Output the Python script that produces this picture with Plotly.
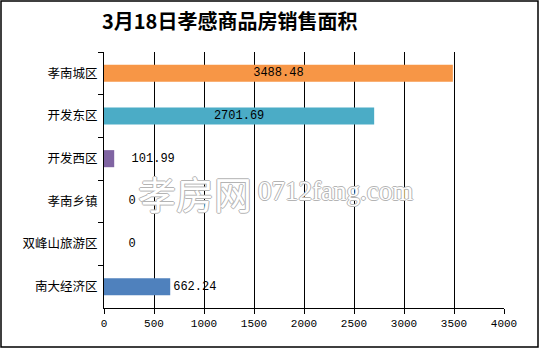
import plotly.graph_objects as go

categories = ["孝南城区", "开发东区", "开发西区", "孝南乡镇", "双峰山旅游区", "南大经济区"]
values = [3488.48, 2701.69, 101.99, 0, 0, 662.24]
labels = ["3488.48", "2701.69", "  101.99", "   0", "   0", "662.24"]
colors = ["#F79646", "#4BACC6", "#8064A2", "#4F81BD", "#4F81BD", "#4F81BD"]
positions = ["inside", "inside", "outside", "outside", "outside", "outside"]
x_ticks = [0, 500, 1000, 1500, 2000, 2500, 3000, 3500, 4000]

W, H = 540, 349
L, R, T, B = 104, 36, 52, 41
PW, PH = W - L - R, H - T - B

def px_x(p):
    return (p - L) / PW

def px_y(p):
    return (H - B - p) / PH

mono = "Liberation Mono, DejaVu Sans Mono, monospace"
cjk = "Noto Sans CJK SC, sans-serif"
outline = "1px 0 0 #b4b4b4, -1px 0 0 #b4b4b4, 0 1px 0 #b4b4b4, 0 -1px 0 #b4b4b4"

fig = go.Figure(go.Bar(
    y=categories, x=values, orientation="h",
    marker=dict(color=colors, line=dict(width=0)),
    text=labels, textposition=positions, insidetextanchor="middle",
    textfont=dict(family=mono, size=12, color="#000000"),
    insidetextfont=dict(family=mono, size=12, color="#000000"),
    outsidetextfont=dict(family=mono, size=12, color="#000000"),
    constraintext="none",
    cliponaxis=False,
))

fig.update_layout(
    width=W, height=H,
    margin=dict(l=L, r=R, t=T, b=B),
    paper_bgcolor="white", plot_bgcolor="white",
    bargap=0.6,
    uniformtext=dict(minsize=12, mode="show"),
    showlegend=False,
    xaxis=dict(range=[0, 4000], tickvals=x_ticks, ticktext=[str(v) for v in x_ticks],
               showgrid=True, gridcolor="#000000", gridwidth=1,
               showline=True, linecolor="#000000", linewidth=1,
               ticks="outside", ticklen=5, tickcolor="#000000",
               tickfont=dict(family=mono, size=11, color="#000000"),
               zeroline=False, fixedrange=True),
    yaxis=dict(autorange="reversed", showline=True, linecolor="#000000", linewidth=1,
               ticks="outside", ticklen=5, tickcolor="#000000", tickson="boundaries",
               tickfont=dict(family=cjk, size=12.5, color="#000000"),
               ticklabelstandoff=3, showgrid=False, fixedrange=True),
    font=dict(family=cjk),
)

fig.add_annotation(text="<b>3月18日孝感商品房销售面积</b>", xref="paper", yref="paper",
                   x=px_x(100), y=px_y(20), xanchor="left", yanchor="middle",
                   showarrow=False, font=dict(family="Noto Sans CJK SC", size=20, color="#000000"))

fig.add_annotation(text="孝房网", xref="paper", yref="paper",
                   x=px_x(136), y=px_y(192), xanchor="left", yanchor="middle",
                   showarrow=False,
                   font=dict(family=cjk, size=38, color="#ffffff", shadow=outline))
fig.add_annotation(text="0712fang.com", xref="paper", yref="paper",
                   x=px_x(256), y=px_y(191), xanchor="left", yanchor="middle",
                   showarrow=False,
                   font=dict(family="Liberation Serif, serif", size=27, color="#ffffff", shadow=outline))

fig.add_shape(type="rect", xref="paper", yref="paper",
              x0=px_x(1), x1=px_x(538), y0=px_y(1), y1=px_y(347),
              line=dict(color="#000000", width=1.5), fillcolor="rgba(0,0,0,0)")

fig.write_html("out.html")
